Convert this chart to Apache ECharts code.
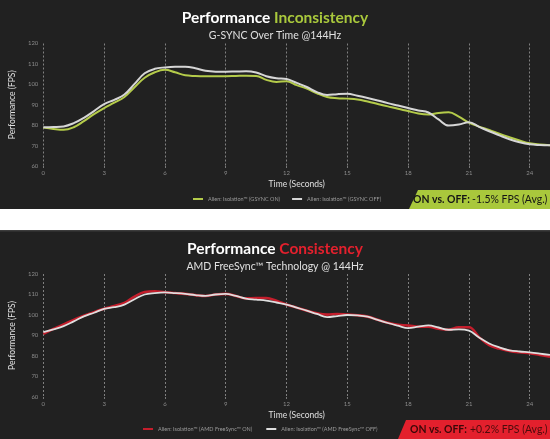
<!DOCTYPE html>
<html>
<head>
<meta charset="utf-8">
<script src="https://cdn.jsdelivr.net/npm/echarts@6/dist/echarts.min.js"></script>
<style>
html,body{margin:0;padding:0;background:#ffffff;}
#c{width:550px;height:439px;}
</style>
</head>
<body>
<div id="c"></div>
<script>
// ---- data ----
var timeSec = [0,0.5,1,1.5,2,2.5,3,3.5,4,4.5,5,5.5,6,6.5,7,7.5,8,8.5,9,9.5,10,10.5,11,11.5,12,12.5,13,13.5,14,14.5,15,15.5,16,16.5,17,17.5,18,18.5,19,19.5,20,20.5,21,21.5,22,22.5,23,23.5,24,24.5,25];
var xTicks = [0,3,6,9,12,15,18,21,24];
var yTicks = [60,70,80,90,100,110,120];

var gsyncOn = [78.8,78.1,77.7,79.0,82.0,85.4,88.4,91.0,93.8,98.6,103.2,105.9,107.1,105.9,104.4,104.1,104.0,104.0,104.0,104.1,104.2,104.1,102.2,101.2,101.5,99.6,97.9,95.6,93.8,93.2,93.0,92.6,91.6,90.4,89.2,88.0,86.9,85.7,85.2,86.0,86.3,84.2,81.2,79.3,77.7,75.8,74.1,72.5,71.1,70.5,70.2];
var gsyncOff = [79.0,79.1,79.4,81.0,83.6,86.9,90.3,92.4,95.0,100.2,105.4,107.6,108.3,108.6,108.6,107.9,106.6,106.2,106.2,106.3,106.4,105.8,104.0,103.0,102.6,100.7,98.7,96.2,94.8,95.2,95.4,94.4,93.3,92.1,90.8,89.6,88.4,87.2,86.2,82.8,79.8,80.3,81.4,79.2,77.0,75.0,73.1,71.6,70.6,70.3,70.2];
var freesyncOn = [90.8,93.2,95.4,97.6,99.6,101.4,103.0,104.4,105.9,109.0,111.2,111.6,111.1,110.7,110.3,109.7,109.3,110.0,110.3,109.3,108.1,108.3,108.3,107.0,105.1,103.6,102.1,100.8,100.2,100.5,100.2,99.9,99.2,97.7,96.2,95.2,94.9,94.3,94.3,93.3,92.8,94.0,94.0,89.2,85.3,83.6,82.5,81.8,81.3,80.5,79.7];
var freesyncOff = [91.6,93.0,94.6,96.9,99.3,101.1,103.0,103.8,105.1,107.7,110.0,110.7,111.0,110.7,110.3,109.7,109.3,110.0,110.3,109.3,108.0,107.5,107.0,106.1,105.1,103.6,102.1,100.5,99.0,99.5,100.0,99.8,99.2,97.6,96.1,94.8,93.6,94.3,94.9,93.9,92.8,93.0,92.4,89.0,86.1,84.2,82.8,82.2,81.8,81.2,80.5];

var names = {
  gOn: 'Alien: Isolation\u2122 (GSYNC ON)',
  gOff: 'Alien: Isolation\u2122 (GSYNC OFF)',
  fOn: 'Alien: Isolation\u2122 (AMD FreeSync\u2122 ON)',
  fOff: 'Alien: Isolation\u2122 (AMD FreeSync\u2122 OFF)'
};

function pairs(vals){ return timeSec.map(function(t,i){ return [t, vals[i]]; }); }

var FONT = 'Lato, "Open Sans", sans-serif';
var BG = '#212121';
var GREEN = '#a9c83c';
var RED = '#e3202d';

function xAxis(gi){
  return {
    type:'value', gridIndex:gi, min:0, max:25, interval:3,
    name:'Time (Seconds)', nameLocation:'middle', nameGap:14,
    nameTextStyle:{color:'#e0e0e0', fontSize:8.5, fontFamily:FONT},
    axisLine:{show:false},
    axisTick:{show:true, length:2, lineStyle:{color:'#777'}},
    axisLabel:{color:'#8a8a8a', fontSize:6, margin:4, fontFamily:FONT, showMaxLabel:false,
      formatter:function(v){ return xTicks.indexOf(v) >= 0 ? String(v) : ''; }},
    splitLine:{show:true, lineStyle:{color:'#9a9a9a', type:[2,2], width:0.8}}
  };
}
function yAxis(gi){
  return {
    type:'value', gridIndex:gi, min:yTicks[0], max:yTicks[yTicks.length-1], interval:10,
    name:'Performance (FPS)', nameLocation:'middle', nameRotate:90, nameGap:16,
    nameTextStyle:{color:'#e0e0e0', fontSize:8.5, fontFamily:FONT},
    axisLine:{show:false}, axisTick:{show:false},
    axisLabel:{color:'#8a8a8a', fontSize:6, margin:5, fontFamily:FONT},
    splitLine:{show:false}
  };
}
function line(name, vals, color, gi, w){
  return {
    name:name, type:'line', xAxisIndex:gi, yAxisIndex:gi, data:pairs(vals),
    smooth:0.4, showSymbol:false, symbol:'none',
    lineStyle:{color:color, width:w}, itemStyle:{color:color}, animation:false, silent:true
  };
}
function txt(x, y, s, weight, color){
  return {type:'text', z:5, x:x, y:y, scaleX:0.87, style:{
    text:s, fontFamily:'Lato', fontSize:12, fontWeight:weight, fill:color,
    textAlign:'left', textVerticalAlign:'top'}};
}

var chart = echarts.init(document.getElementById('c'), null, {renderer:'canvas'});
chart.setOption({
  backgroundColor:'#ffffff',
  animation:false,
  graphic:[
    {type:'rect', z:-10, shape:{x:0,y:0,width:550,height:209}, style:{fill:BG}},
    {type:'rect', z:-10, shape:{x:0,y:230,width:550,height:209}, style:{fill:BG}},
    {type:'rect', z:-9, shape:{x:0,y:230,width:550,height:1.5}, style:{fill:'#3c3c3c'}},
    {type:'polygon', z:-5, shape:{points:[[418,190],[550,190],[550,209],[409,209]]}, style:{fill:GREEN}},
    txt(413, 193, 'ON vs. OFF:', 'bold', '#151515'),
    txt(472, 193, '-1.5% FPS (Avg.)', 'normal', '#151515'),
    {type:'polygon', z:-5, shape:{points:[[406,420],[550,420],[550,439],[398,439]]}, style:{fill:RED}},
    txt(410, 423, 'ON vs. OFF:', 'bold', '#3a0808'),
    txt(470, 423, '+0.2% FPS (Avg.)', 'normal', '#4a0c0c')
  ],
  title:[
    {text:'{a|Performance} {b|Inconsistency}', subtext:'G-SYNC Over Time @144Hz',
     left:'center', top:5, itemGap:4,
     textStyle:{fontSize:15.5, fontFamily:FONT, rich:{
       a:{color:'#ffffff', fontWeight:'bold', fontSize:15.5, fontFamily:FONT},
       b:{color:GREEN, fontWeight:'bold', fontSize:15.5, fontFamily:FONT}}},
     subtextStyle:{color:'#e0e0e0', fontSize:10.5, fontFamily:FONT}},
    {text:'{a|Performance} {b|Consistency}', subtext:'AMD FreeSync\u2122 Technology @ 144Hz',
     left:'center', top:236, itemGap:4,
     textStyle:{fontSize:15.5, fontFamily:FONT, rich:{
       a:{color:'#ffffff', fontWeight:'bold', fontSize:15.5, fontFamily:FONT},
       b:{color:RED, fontWeight:'bold', fontSize:15.5, fontFamily:FONT}}},
     subtextStyle:{color:'#e0e0e0', fontSize:10.5, fontFamily:FONT}}
  ],
  legend:[
    {data:[names.gOn, names.gOff], left:193, top:196, itemWidth:10, itemHeight:2, icon:'rect', itemGap:12, padding:0,
     textStyle:{color:'#9a9a9a', fontSize:5.5, fontFamily:FONT}, selectedMode:false},
    {data:[names.fOn, names.fOff], left:143, top:426, itemWidth:10, itemHeight:2, icon:'rect', itemGap:14, padding:0,
     textStyle:{color:'#9a9a9a', fontSize:5.5, fontFamily:FONT}, selectedMode:false}
  ],
  grid:[
    {left:33, right:0, top:43.5, height:122.5},
    {left:33, right:0, top:274, height:123}
  ],
  xAxis:[xAxis(0), xAxis(1)],
  yAxis:[yAxis(0), yAxis(1)],
  series:[
    line(names.gOn, gsyncOn, '#b4cb4a', 0, 2),
    line(names.gOff, gsyncOff, '#d6d6d6', 0, 2),
    line(names.fOn, freesyncOn, '#c41e2c', 1, 2.6),
    line(names.fOff, freesyncOff, '#dedede', 1, 1.8)
  ]
});
</script>
</body>
</html>
